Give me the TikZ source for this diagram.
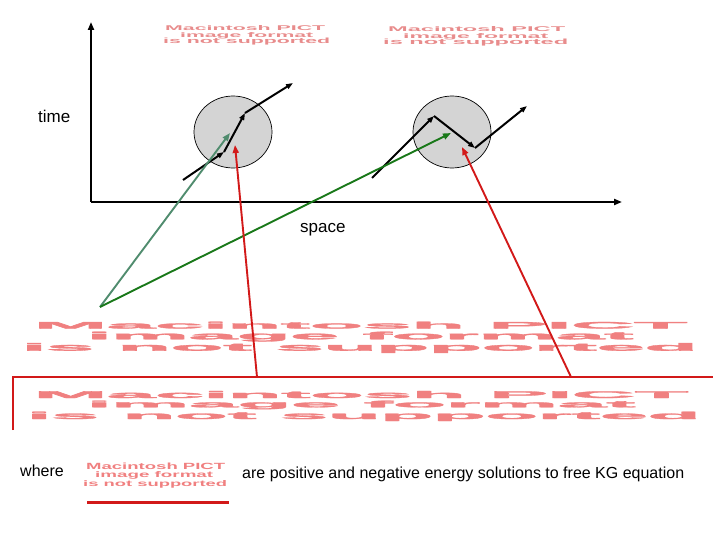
\documentclass[tikz,border=0pt]{standalone}
\usepackage{fontspec}
\usepackage{graphicx}
\setmainfont{Liberation Sans}
\newfontfamily\pictheavy[FakeBold=2.5]{Liberation Sans Bold}
\usetikzlibrary{shapes.geometric,arrows.meta}
\definecolor{pict}{RGB}{240,128,128}
\definecolor{pictlt}{RGB}{232,140,140}
\definecolor{redln}{RGB}{210,25,25}
\definecolor{dgreen}{RGB}{25,120,25}
\definecolor{tealln}{RGB}{80,140,110}
\definecolor{blobgray}{RGB}{212,212,212}
\newcommand\pictln[3]{\resizebox{#1pt}{#2pt}{\bfseries #3}}
\newcommand\pictbig[3]{\resizebox{#1pt}{#2pt}{\pictheavy #3}}
\begin{document}
\begin{tikzpicture}[x=1pt,y=-1pt,
  axis/.style={line width=2.8pt,-{Triangle[length=8pt,width=6pt]}},
  worldline/.style={line width=2pt,-{Triangle[length=7pt,width=5pt]}},
  pointer/.style={line width=1.9pt,-{Triangle[length=8pt,width=6pt]}},
  redframe/.style={line width=2.8pt,draw=redln},
  blob/.style={ellipse,draw,line width=0.7pt,fill=blobgray,minimum width=78pt,minimum height=72pt,inner sep=0pt},
  lbl/.style={inner sep=0pt,anchor=base west},
  pl/.style={inner sep=0pt,anchor=base west,text=pict},
  plt/.style={inner sep=0pt,anchor=base west,text=pictlt}]
\useasboundingbox (0,0) rectangle (720,540);

% placeholders (top)
\node[plt] (ta1) at (165,31) {\pictln{160}{5}{Macintosh PICT}};
\node[plt] (ta2) at (180,37.5) {\pictln{133}{5}{image format}};
\node[plt] (ta3) at (163,44) {\pictln{167}{5.5}{is not supported}};
\node[plt] (tb1) at (388,32) {\pictln{177}{5}{Macintosh PICT}};
\node[plt] (tb2) at (403,38.5) {\pictln{145}{5}{image format}};
\node[plt] (tb3) at (383,45) {\pictln{185}{5.5}{is not supported}};

% axes
\coordinate (o) at (91,202);
\coordinate (ytop) at (91,22);
\coordinate (xend) at (622,202);
\draw[axis] (o) -- (ytop);
\draw[axis] (o) -- (xend);
\node[lbl,font=\fontsize{17}{20}\selectfont] (time) at (38,123) {time};
\node[lbl,font=\fontsize{17}{20}\selectfont] (space) at (300,233) {space};

% interaction regions
\node[blob] (c1) at (233,132) {};
\node[blob] (c2) at (452,132) {};

% world lines
\coordinate (a0) at (183,180);
\coordinate (a1) at (224,152);
\coordinate (a2) at (245,113);
\coordinate (a3) at (293,83);
\draw[worldline] (a0) -- (a1);
\draw[worldline] (a1) -- (a2);
\draw[worldline] (a2) -- (a3);
\coordinate (b0) at (372,178);
\coordinate (b1) at (434,116);
\coordinate (b2) at (475,148);
\coordinate (b3) at (527,106);
\draw[worldline] (b0) -- (b1);
\draw[worldline] (b1) -- (b2);
\draw[worldline] (b2) -- (b3);

% pointers
\coordinate (src) at (100,307);
\coordinate (tt) at (230,133);
\coordinate (gt) at (451,133);
\draw[pointer,draw=tealln,fill=tealln] (src) -- (tt);
\draw[pointer,draw=dgreen,fill=dgreen] (src) -- (gt);

% big placeholders
\node[pl] (m1) at (34,328.5) {\pictbig{653}{6.8}{Macintosh PICT}};
\node[pl] (m2) at (87,339.3) {\pictbig{546}{7.6}{image format}};
\node[pl] (m3) at (22,350.7) {\pictbig{675}{7.7}{is not supported}};
\node[pl] (n1) at (34,398) {\pictbig{654}{7}{Macintosh PICT}};
\node[pl] (n2) at (87,407.3) {\pictbig{548}{6.6}{image format}};
\node[pl] (n3) at (27,419) {\pictbig{673}{7.3}{is not supported}};

% red frame and red pointers
\coordinate (rr1) at (13,430);
\coordinate (rr2) at (13,377);
\coordinate (rr3) at (713,377);
\draw[redframe] (rr1) -- (rr2) -- (rr3);
\coordinate (r1s) at (257,377);
\coordinate (r1t) at (235,145);
\coordinate (r2s) at (571,377);
\coordinate (r2t) at (462,147);
\draw[pointer,draw=redln,fill=redln] (r1s) -- (r1t);
\draw[pointer,draw=redln,fill=redln] (r2s) -- (r2t);

% bottom line
\node[lbl,font=\fontsize{16}{19}\selectfont] (where) at (20,476) {where};
\node[pl] (k1) at (86,469) {\pictln{139}{6.5}{Macintosh PICT}};
\node[pl] (k2) at (95,477.5) {\pictln{118}{6}{image format}};
\node[pl] (k3) at (83,486) {\pictln{144}{6}{is not supported}};
\coordinate (u0) at (87,502);
\coordinate (u1) at (229,502);
\draw[line width=3pt,draw=redln] (u0) -- (u1);
\node[lbl,font=\fontsize{16}{19}\selectfont] (desc) at (242,478) {are positive and negative energy solutions to free KG equation};
\end{tikzpicture}
\end{document}
